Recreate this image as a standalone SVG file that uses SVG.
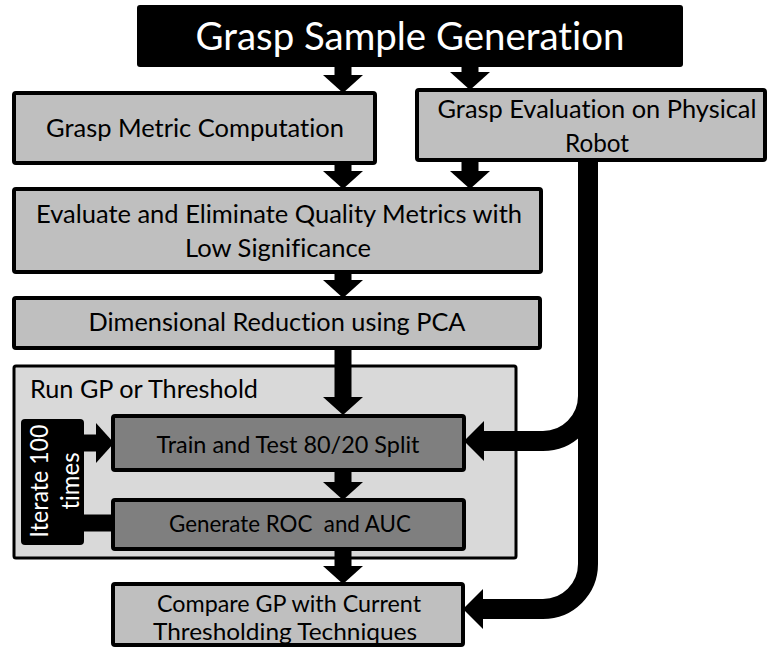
<svg xmlns="http://www.w3.org/2000/svg" width="768" height="649" viewBox="0 0 768 649">
  <style>
    .box { fill: #bfbfbf; stroke: #000; stroke-width: 4; }
    .panel { fill: #d9d9d9; stroke: #000; stroke-width: 3; }
    .step { fill: #7f7f7f; stroke: #000; stroke-width: 4; }
    .dark { fill: #000; }
    text { font-family: "Lato", "Open Sans", "Liberation Sans", sans-serif; fill: #000; white-space: pre; font-variant-ligatures: none; }
    .c { text-anchor: middle; }
    .w { fill: #fff; }
    .thin { fill: none; stroke: #000; stroke-width: 17; }
    .thick { fill: none; stroke: #000; stroke-width: 20; }
  </style>
  <defs>
    <marker id="head" markerUnits="userSpaceOnUse" viewBox="0 0 18 40" markerWidth="18" markerHeight="40" refX="0" refY="20" orient="auto">
      <path d="M0,0 L18,20 L0,40 Z" fill="#000"/>
    </marker>
    <marker id="headBig" markerUnits="userSpaceOnUse" viewBox="0 0 20 40" markerWidth="20" markerHeight="40" refX="0" refY="20" orient="auto">
      <path d="M0,0 L20,20 L0,40 Z" fill="#000"/>
    </marker>
  </defs>
  <rect width="768" height="649" fill="#fff"/>

  <g id="sample-generation">
    <rect class="dark" x="137" y="5" width="546" height="62" rx="3"/>
    <text class="c w" x="410" y="50" font-size="38" textLength="429" lengthAdjust="spacingAndGlyphs">Grasp Sample Generation</text>
  </g>

  <g id="metric-computation">
    <rect class="box" x="14" y="93" width="361" height="70" rx="2"/>
    <text class="c" x="195" y="137" font-size="25" textLength="298" lengthAdjust="spacingAndGlyphs">Grasp Metric Computation</text>
  </g>

  <g id="physical-evaluation">
    <rect class="box" x="417" y="90" width="348" height="70" rx="2"/>
    <text class="c" x="597" y="118" font-size="25" textLength="319" lengthAdjust="spacingAndGlyphs">Grasp Evaluation on Physical</text>
    <text class="c" x="597" y="152" font-size="25" textLength="64" lengthAdjust="spacingAndGlyphs">Robot</text>
  </g>

  <g id="eliminate-metrics">
    <rect class="box" x="14" y="189" width="527" height="83" rx="2"/>
    <text class="c" x="279" y="223" font-size="25" textLength="486" lengthAdjust="spacingAndGlyphs">Evaluate and Eliminate Quality Metrics with</text>
    <text class="c" x="278" y="257" font-size="25" textLength="186" lengthAdjust="spacingAndGlyphs">Low Significance</text>
  </g>

  <g id="pca-reduction">
    <rect class="box" x="14" y="298" width="526" height="50" rx="2"/>
    <text class="c" x="277" y="331" font-size="25" textLength="377" lengthAdjust="spacingAndGlyphs">Dimensional Reduction using PCA</text>
  </g>

  <g id="run-gp">
    <rect class="panel" x="14" y="366" width="502" height="192" rx="2"/>
    <text x="30" y="398" font-size="25" textLength="228" lengthAdjust="spacingAndGlyphs">Run GP or Threshold</text>
  </g>

  <g id="iterate">
    <rect class="dark" x="21" y="419" width="63" height="126" rx="4"/>
    <text class="c w" transform="translate(48,481) rotate(-90)" font-size="25" textLength="113" lengthAdjust="spacingAndGlyphs">Iterate 100</text>
    <text class="c w" transform="translate(79,481) rotate(-90)" font-size="25" textLength="57" lengthAdjust="spacingAndGlyphs">times</text>
  </g>

  <g id="train-test">
    <rect class="step" x="113" y="416" width="351" height="54" rx="2"/>
    <text class="c" x="288" y="453" font-size="23" textLength="263" lengthAdjust="spacingAndGlyphs">Train and Test 80/20 Split</text>
  </g>

  <g id="roc-auc">
    <rect class="step" x="113" y="500" width="351" height="49" rx="2"/>
    <text class="c" x="290" y="532" font-size="23" textLength="242" lengthAdjust="spacingAndGlyphs">Generate ROC  and AUC</text>
  </g>

  <g id="compare">
    <rect class="box" x="113" y="584" width="350" height="61" rx="2"/>
    <text class="c" x="289" y="612" font-size="23" textLength="264" lengthAdjust="spacingAndGlyphs">Compare GP with Current</text>
    <text class="c" x="285" y="640" font-size="23" textLength="264" lengthAdjust="spacingAndGlyphs">Thresholding Techniques</text>
  </g>

  <g id="connectors">
    <path class="thin" d="M343,66 V75" marker-end="url(#head)"/>
    <path class="thin" d="M470,66 V72" marker-end="url(#head)"/>
    <path class="thin" d="M343,163 V171" marker-end="url(#head)"/>
    <path class="thin" d="M470,160 V171" marker-end="url(#head)"/>
    <path class="thin" d="M343,272 V280" marker-end="url(#head)"/>
    <path class="thin" d="M343,348 V397" marker-end="url(#head)"/>
    <path class="thin" d="M343,470 V482" marker-end="url(#head)"/>
    <path class="thin" d="M343,549 V566" marker-end="url(#head)"/>
    <path class="thin" d="M84,443 H96" marker-end="url(#head)"/>
    <path class="thin" d="M113,523 H84"/>
    <path class="thick" d="M588,160 V396 A45,45 0 0 1 543,441 H484" marker-end="url(#headBig)"/>
    <path class="thick" d="M588,160 V564 A45,45 0 0 1 543,609 H483" marker-end="url(#headBig)"/>
  </g>
</svg>
